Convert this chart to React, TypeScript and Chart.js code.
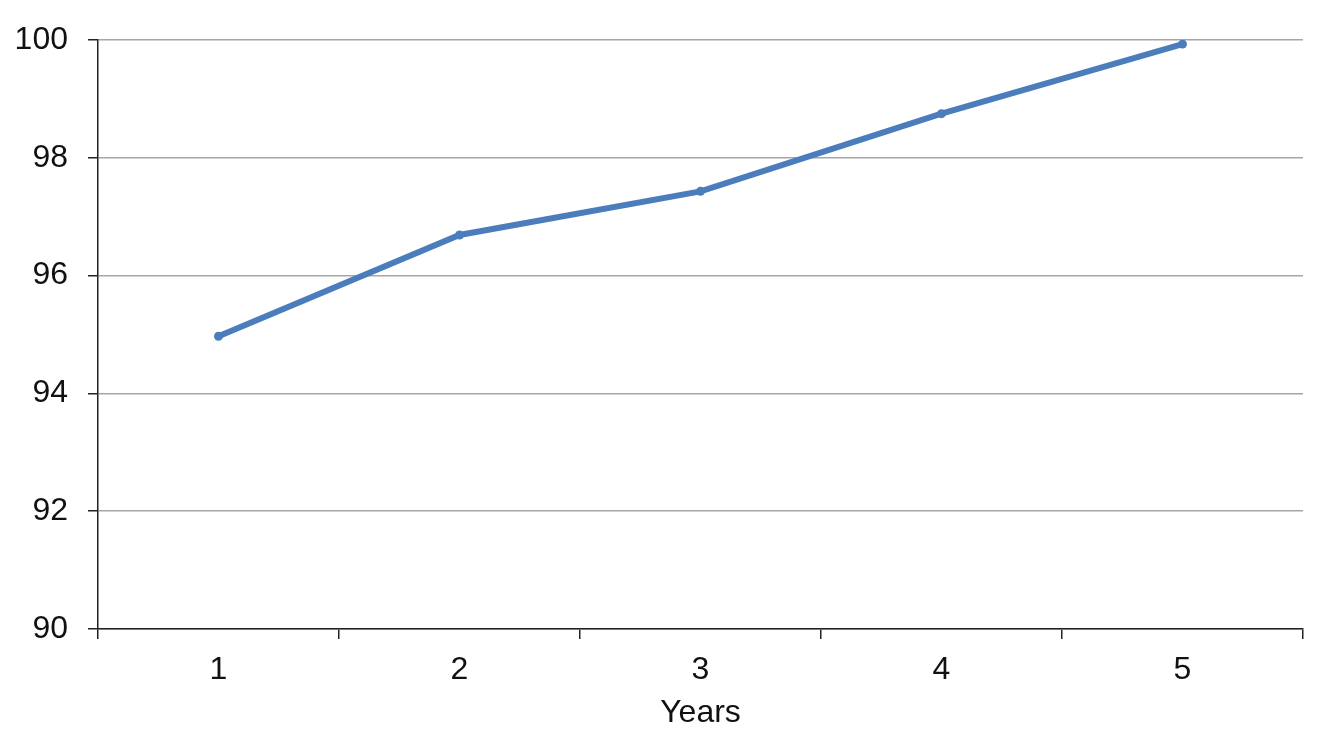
import { useEffect, useRef } from "react";
import { Chart, registerables } from "chart.js";

Chart.register(...registerables);

const years = ["1", "2", "3", "4", "5"];
const values = [94.97, 96.69, 97.43, 98.75, 99.93];
const yTicks = [90, 92, 94, 96, 98, 100];

const FONT = "'Liberation Sans', Arial, sans-serif";
const LINE_BLUE = "#4b7dbc";

export default function App() {
  const canvasRef = useRef<HTMLCanvasElement>(null);
  const chartRef = useRef<Chart | null>(null);

  useEffect(() => {
    document.body.style.margin = "0";
    if (!canvasRef.current) return;
    if (chartRef.current) {
      chartRef.current.destroy();
      chartRef.current = null;
    }

    chartRef.current = new Chart(canvasRef.current, {
      type: "line",
      data: {
        labels: years,
        datasets: [
          {
            data: values,
            borderColor: LINE_BLUE,
            backgroundColor: LINE_BLUE,
            borderWidth: 6,
            pointRadius: 4.5,
            pointBorderWidth: 0,
            tension: 0,
          },
        ],
      },
      options: {
        responsive: false,
        animation: false,
        layout: { padding: { left: 0, right: 27, top: 40, bottom: 0 } },
        plugins: { legend: { display: false }, tooltip: { enabled: false } },
        scales: {
          x: {
            type: "category",
            offset: true,
            grid: {
              offset: true,
              drawOnChartArea: false,
              drawTicks: true,
              tickLength: 10,
              tickColor: "#222",
              lineWidth: 1.5,
            },
            border: { color: "#222", width: 1.5 },
            ticks: {
              color: "#111",
              padding: 12,
              font: { family: FONT, size: 32 },
            },
            title: {
              display: true,
              text: "Years",
              color: "#111",
              padding: { top: 4, bottom: 19 },
              font: { family: FONT, size: 32 },
            },
            afterFit: (scale: any) => {
              scale.height = 751 - 629;
            },
          },
          y: {
            min: 90,
            max: 100,
            afterBuildTicks: (scale: any) => {
              scale.ticks = yTicks.map((v) => ({ value: v }));
            },
            grid: {
              color: "#a6a6a6",
              lineWidth: 1.5,
              tickLength: 10,
              tickColor: "#222",
            },
            border: { color: "#222", width: 1.5 },
            ticks: {
              color: "#111",
              padding: 20,
              font: { family: FONT, size: 32 },
            },
            afterFit: (scale: any) => {
              scale.width = 98;
            },
          },
        },
      },
    } as any);

    return () => {
      chartRef.current?.destroy();
      chartRef.current = null;
    };
  }, []);

  return (
    <div style={{ width: 1330, height: 751, background: "#fff" }}>
      <canvas ref={canvasRef} width={1330} height={751} />
    </div>
  );
}
